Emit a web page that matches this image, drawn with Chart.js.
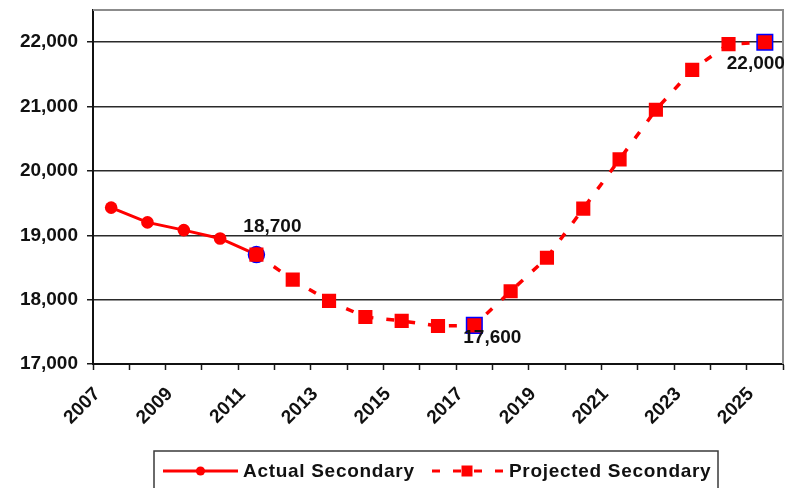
<!DOCTYPE html>
<html>
<head>
<meta charset="utf-8">
<title>Secondary Enrollment</title>
<script src="https://cdn.jsdelivr.net/npm/chart.js@4.4.1/dist/chart.umd.min.js"></script>
<style>
  html, body { margin: 0; padding: 0; background: #ffffff; }
  #wrap { width: 787px; height: 488px; position: relative; }
</style>
</head>
<body>
<div id="wrap"><canvas id="chart" width="787" height="488"></canvas></div>
<script>
// School years on the category axis
const years = ['2007', '2008', '2009', '2010', '2011', '2012', '2013', '2014', '2015', '2016',
               '2017', '2018', '2019', '2020', '2021', '2022', '2023', '2024', '2025'];

// Enrollment counts
const actualSecondary = [19430, 19200, 19080, 18950, 18700,
                         null, null, null, null, null, null, null, null, null, null, null, null, null, null];
const projectedSecondary = [null, null, null, null, 18700, 18310, 17980, 17730, 17670, 17590,
                            17600, 18130, 18650, 19415, 20180, 20950, 21570, 21970, 22000];

// Years whose value is called out next to the marker
const calloutYears = ['2011', '2017', '2025'];

// Value axis tick labels
const yTickValues = [17000, 18000, 19000, 20000, 21000, 22000];

const RED = '#ff0000';
const BLUE = '#0000ff';
const INK = '#111111';
const FONT = '"Liberation Sans", Arial, Helvetica, sans-serif';

const fmt = v => v.toLocaleString('en-US');
const isCallout = i => calloutYears.includes(years[i]);
const isProjCallout = i => isCallout(i) && actualSecondary[i] === null;

// Light grey frame on the top and right of the plot area
const framePlugin = {
  id: 'frame',
  beforeDatasetsDraw(chart) {
    const { ctx, chartArea: a } = chart;
    ctx.save();
    ctx.strokeStyle = '#8c8c8c';
    ctx.lineWidth = 2;
    ctx.beginPath();
    ctx.moveTo(a.left, a.top);
    ctx.lineTo(a.right, a.top);
    ctx.lineTo(a.right, a.bottom);
    ctx.stroke();
    ctx.restore();
  }
};

// Value call-outs beside the highlighted markers
const calloutOffsets = {
  '2011': { dx: 16, dy: -28 },
  '2017': { dx: 18, dy: 12 },
  '2025': { dx: -9, dy: 22 }
};
const calloutPlugin = {
  id: 'callouts',
  afterDatasetsDraw(chart) {
    const { ctx } = chart;
    const meta = chart.getDatasetMeta(1);
    ctx.save();
    ctx.font = 'bold 19px ' + FONT;
    ctx.fillStyle = INK;
    ctx.textAlign = 'center';
    ctx.textBaseline = 'middle';
    calloutYears.forEach(year => {
      const i = years.indexOf(year);
      const v = projectedSecondary[i];
      const pt = meta.data[i];
      const off = calloutOffsets[year];
      ctx.fillText(fmt(v), pt.x + off.dx, pt.y + off.dy);
    });
    ctx.restore();
  }
};

// Boxed legend below the axis
const legendPlugin = {
  id: 'boxLegend',
  afterDraw(chart) {
    const { ctx } = chart;
    const ds = chart.data.datasets;
    ctx.save();
    ctx.strokeStyle = '#3a3a3a';
    ctx.lineWidth = 1.5;
    ctx.strokeRect(154, 451, 564, 60);

    const cy = 471;
    const items = [
      { d: ds[0], x0: 163, x1: 238, tx: 243 },
      { d: ds[1], x0: 431, x1: 503, tx: 509 }
    ];
    items.forEach(it => {
      const d = it.d;
      ctx.strokeStyle = d.borderColor;
      ctx.lineWidth = 3;
      ctx.setLineDash(d.borderDash || []);
      ctx.lineDashOffset = d.borderDash ? -1 : 0;
      ctx.beginPath();
      ctx.moveTo(it.x0, cy);
      ctx.lineTo(it.x1, cy);
      ctx.stroke();
      ctx.setLineDash([]);
      const mx = (it.x0 + it.x1) / 2;
      ctx.fillStyle = RED;
      ctx.beginPath();
      if (d.pointStyle === 'rect') {
        ctx.rect(mx - 5.5, cy - 5.5, 11, 11);
      } else {
        ctx.arc(mx, cy, 4.6, 0, Math.PI * 2);
      }
      ctx.fill();
      ctx.fillStyle = INK;
      ctx.font = 'bold 19px ' + FONT;
      ctx.letterSpacing = '0.7px';
      ctx.textAlign = 'left';
      ctx.textBaseline = 'middle';
      ctx.fillText(d.label, it.tx, cy + 1);
      ctx.letterSpacing = '0px';
    });
    ctx.restore();
  }
};

new Chart(document.getElementById('chart'), {
  type: 'line',
  data: {
    labels: years,
    datasets: [
      {
        label: 'Actual Secondary',
        data: actualSecondary,
        borderColor: RED,
        backgroundColor: RED,
        borderWidth: 3,
        pointStyle: 'circle',
        pointRadius: ctx => isCallout(ctx.dataIndex) ? 8 : 6.3,
        pointBackgroundColor: RED,
        pointBorderColor: ctx => isCallout(ctx.dataIndex) ? BLUE : RED,
        pointBorderWidth: ctx => isCallout(ctx.dataIndex) ? 1.5 : 0,
        tension: 0,
        order: 1
      },
      {
        label: 'Projected Secondary',
        data: projectedSecondary,
        borderColor: RED,
        backgroundColor: RED,
        borderWidth: 3.5,
        borderDash: [8, 13],
        pointStyle: 'rect',
        pointRadius: ctx => isProjCallout(ctx.dataIndex) ? 11 : 10,
        pointBackgroundColor: RED,
        pointBorderColor: ctx => isProjCallout(ctx.dataIndex) ? BLUE : RED,
        pointBorderWidth: ctx => isProjCallout(ctx.dataIndex) ? 1.5 : 0,
        tension: 0,
        order: 0
      }
    ]
  },
  options: {
    responsive: false,
    animation: false,
    events: [],
    devicePixelRatio: 1,
    layout: { autoPadding: false, padding: { top: 10, right: 4, left: 0, bottom: 0 } },
    plugins: {
      legend: { display: false },
      tooltip: { enabled: false }
    },
    scales: {
      x: {
        type: 'category',
        offset: true,
        grid: {
          offset: true,
          drawOnChartArea: false,
          drawTicks: true,
          tickLength: 6,
          tickColor: '#1a1a1a',
          tickWidth: 1.5
        },
        border: { color: '#111111', width: 2 },
        ticks: {
          autoSkip: false,
          maxRotation: 45,
          minRotation: 45,
          labelOffset: -14,
          padding: 13,
          color: INK,
          font: { family: FONT, size: 19, weight: 'bold' },
          callback: (val, i) => (i % 2 === 0 ? years[i] : '')
        },
        afterFit: s => { s.height = 124; s.paddingLeft = 0; s.paddingRight = 0; }
      },
      y: {
        type: 'linear',
        min: 17000,
        max: 22500,
        grid: {
          color: '#2a2a2a',
          lineWidth: 1.5,
          drawTicks: true,
          tickLength: 6,
          tickColor: '#1a1a1a'
        },
        border: { color: '#111111', width: 2 },
        afterBuildTicks: s => { s.ticks = yTickValues.map(v => ({ value: v })); },
        ticks: {
          padding: 9,
          color: INK,
          font: { family: FONT, size: 19, weight: 'bold' },
          callback: v => fmt(v)
        },
        afterFit: s => { s.width = 93; s.paddingTop = 0; s.paddingBottom = 0; }
      }
    }
  },
  plugins: [framePlugin, calloutPlugin, legendPlugin]
});
</script>
</body>
</html>
